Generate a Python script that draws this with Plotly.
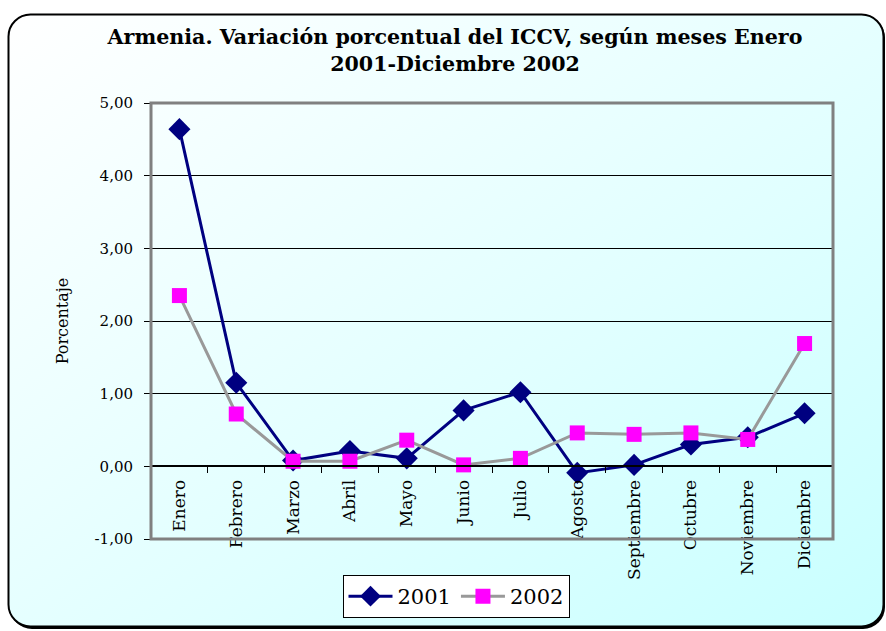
import base64
import plotly.graph_objects as go

# ── Data ─────────────────────────────────────────────────────────────────────
MESES = ["Enero", "Febrero", "Marzo", "Abril", "Mayo", "Junio", "Julio",
         "Agosto", "Septiembre", "Octubre", "Noviembre", "Diciembre"]
VAR_2001 = [4.64, 1.15, 0.08, 0.21, 0.11, 0.77, 1.02, -0.09, 0.02, 0.30, 0.40, 0.73]
VAR_2002 = [2.35, 0.72, 0.07, 0.07, 0.36, 0.02, 0.11, 0.46, 0.44, 0.46, 0.37, 1.69]
Y_TICKS = [-1, 0, 1, 2, 3, 4, 5]
Y_TICK_TEXT = ["-1,00", "0,00", "1,00", "2,00", "3,00", "4,00", "5,00"]

W, H = 886, 631
M = dict(l=151, r=53, t=103, b=92)
PW = W - M["l"] - M["r"]
PH = H - M["t"] - M["b"]

SERIF = "DejaVu Serif"

# ── Background: rounded box with diagonal gradient ───────────────────────────
svg = f"""<svg xmlns="http://www.w3.org/2000/svg" width="{W}" height="{H}" viewBox="0 0 {W} {H}">
<defs><linearGradient id="g" x1="0" y1="0" x2="1" y2="1">
<stop offset="0" stop-color="#FFFFFF"/><stop offset="0.6" stop-color="#E0FFFF"/>
<stop offset="1" stop-color="#C8FFFF"/>
</linearGradient></defs>
<rect x="10" y="16" width="875" height="613" rx="22" ry="22" fill="#000"/>
<rect x="8.5" y="14.5" width="875" height="612" rx="22" ry="22" fill="url(#g)" stroke="#000" stroke-width="2"/>
</svg>"""
bg_src = "data:image/svg+xml;base64," + base64.b64encode(svg.encode()).decode()

fig = go.Figure()

fig.add_trace(go.Scatter(
    x=MESES, y=VAR_2001, name="2001", mode="lines+markers",
    line=dict(color="#000080", width=3),
    marker=dict(symbol="diamond", size=17, color="#000080"),
))
fig.add_trace(go.Scatter(
    x=MESES, y=VAR_2002, name="2002", mode="lines+markers",
    line=dict(color="#999999", width=3),
    marker=dict(symbol="square", size=15, color="#FF00FF"),
))

fig.update_layout(
    width=W, height=H,
    margin=M,
    paper_bgcolor="white",
    plot_bgcolor="white",
    font=dict(family=SERIF, color="black"),
    title=dict(
        text="Armenia. Variación porcentual del ICCV, según meses Enero<br>2001-Diciembre 2002",
        x=455 / W, xanchor="center", y=1 - 44 / H, yanchor="top",
        font=dict(family=SERIF, size=20.6, color="black", weight="bold"),
    ),
    xaxis=dict(
        type="category", range=[-0.5, len(MESES) - 0.5],
        anchor="free", position=1 / 6,
        showline=True, linecolor="black", linewidth=1.5,
        ticks="outside", tickson="boundaries", ticklen=6, tickcolor="black",
        tickangle=-90, tickfont=dict(family=SERIF, size=17), ticklabelstandoff=6,
        showgrid=False, zeroline=False,
    ),
    yaxis=dict(
        range=[-1, 5], tickvals=Y_TICKS, ticktext=Y_TICK_TEXT,
        ticks="outside", ticklen=6, tickcolor="black",
        tickfont=dict(family=SERIF, size=15), ticklabelstandoff=8,
        showgrid=True, gridcolor="black", gridwidth=1, zeroline=False,
        title=dict(text="Porcentaje", font=dict(family=SERIF, size=16), standoff=21),
    ),
    legend=dict(
        orientation="h", x=(456 - M["l"]) / PW, xanchor="center",
        y=1 - (575 - M["t"]) / PH, yanchor="top",
        bgcolor="white", bordercolor="black", borderwidth=1,
        font=dict(family=SERIF, size=21), itemwidth=44,
    ),
    showlegend=True,
    images=[dict(
        source=bg_src, xref="paper", yref="paper",
        x=-M["l"] / PW, y=1 + M["t"] / PH,
        sizex=W / PW, sizey=H / PH,
        xanchor="left", yanchor="top", sizing="stretch", layer="below",
    )],
    shapes=[dict(
        type="rect", xref="paper", yref="paper", x0=0, x1=1, y0=0, y1=1,
        line=dict(color="#808080", width=3), layer="above",
    )],
)

fig.write_html("out.html", config={"displayModeBar": False},
               post_script="document.body.style.margin='0';")
